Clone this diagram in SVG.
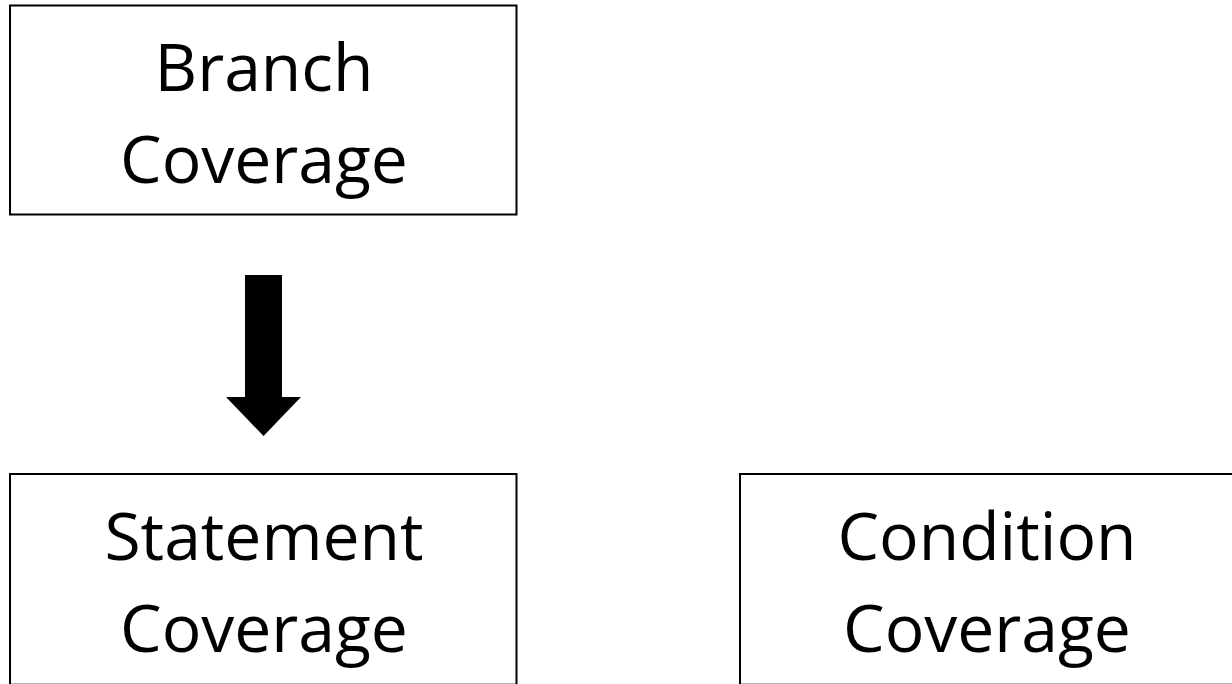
<svg xmlns="http://www.w3.org/2000/svg" width="1232" height="684" viewBox="0 0 1232 684">
  <style>
    .box { fill: #ffffff; stroke: #000000; stroke-width: 2; }
    .label { font-family: "Open Sans", "Liberation Sans", sans-serif; font-size: 66px; fill: #000000; text-anchor: middle; }
    .arrow { fill: #000000; stroke: none; }
  </style>
  <rect width="1232" height="684" fill="#ffffff"/>

  <g id="branch-coverage">
    <rect class="box" x="10" y="5.5" width="506.5" height="209"/>
    <text class="label" x="264" y="91">Branch</text>
    <text class="label" x="264" y="183">Coverage</text>
  </g>

  <g id="statement-coverage">
    <rect class="box" x="10" y="474" width="506.5" height="210.7"/>
    <text class="label" x="264" y="560">Statement</text>
    <text class="label" x="264" y="652">Coverage</text>
  </g>

  <g id="condition-coverage">
    <rect class="box" x="740" y="474" width="506.5" height="210.7"/>
    <text class="label" x="987" y="560">Condition</text>
    <text class="label" x="987" y="652">Coverage</text>
  </g>

  <g id="connectors">
    <!-- block arrow: branch coverage implies statement coverage -->
    <polygon class="arrow" points="245,275 282,275 282,397 301,397 263.5,436 226,397 245,397"/>
  </g>
</svg>
